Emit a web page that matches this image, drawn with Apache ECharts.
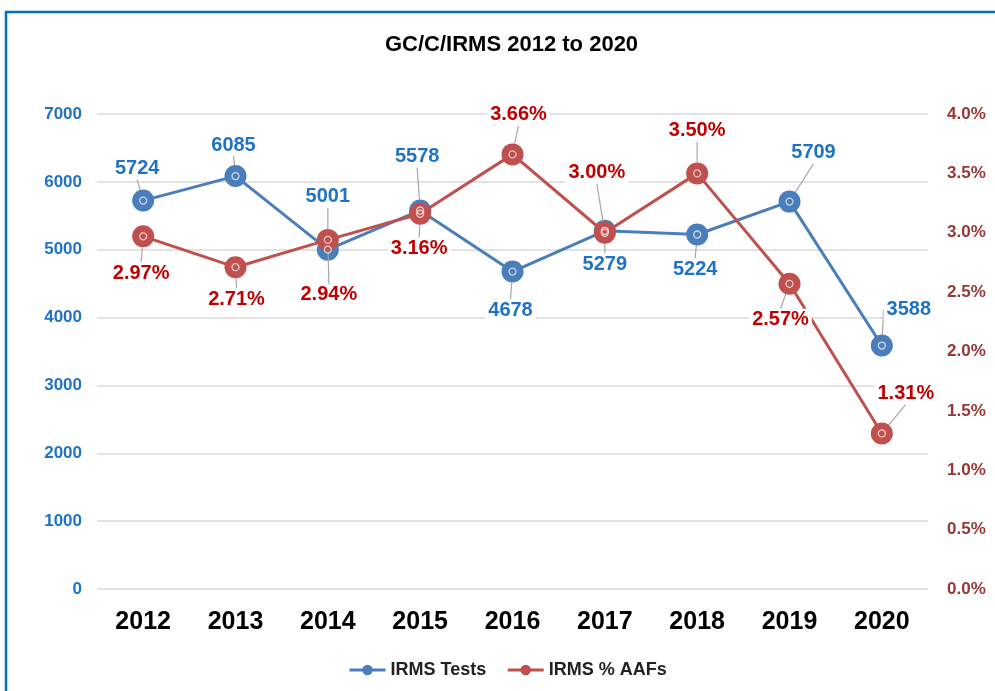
<!DOCTYPE html>
<html>
<head>
<meta charset="utf-8">
<script src="https://cdn.jsdelivr.net/npm/echarts@6/dist/echarts.min.js"></script>
<style>
  html, body { margin: 0; padding: 0; background: #fff; }
  #chart { width: 995px; height: 691px; }
</style>
</head>
<body>
<div id="chart"></div>
<script>
const years = ['2012', '2013', '2014', '2015', '2016', '2017', '2018', '2019', '2020'];
const irmsTests = [5724, 6085, 5001, 5578, 4678, 5279, 5224, 5709, 3588];
const irmsAAF = [2.97, 2.71, 2.94, 3.16, 3.66, 3.00, 3.50, 2.57, 1.31];

// label offsets (px) from each point, like the callouts in the picture
const testsOffsets = [[-6, -32], [-2, -31], [0, -53], [-3, -54], [-2, 39], [0, 34], [-2, 35], [24, -49], [27, -36]];
const aafOffsets = [[-2, 37], [1, 32], [1, 55], [-1, 35], [6, -40], [-8, -60], [0, -43], [-9, 36], [24, -40]];

const font = 'Arial, "Liberation Sans", sans-serif';
const blue = '#4A7EBB';
const red = '#C0504D';

const chart = echarts.init(document.getElementById('chart'));

// small white ring drawn on top of each marker (as in the picture)
const ring = (data, axis) => ({
  type: 'scatter',
  yAxisIndex: axis,
  data: data,
  symbol: 'circle',
  symbolSize: 7,
  silent: true,
  itemStyle: { color: 'transparent', borderColor: 'rgba(255,255,255,0.85)', borderWidth: 1.3 },
  z: 6
});

const option = {
  animation: false,
  backgroundColor: '#fff',
  graphic: [{
    type: 'rect',
    shape: { x: 6, y: 12, width: 1010, height: 700 },
    style: { fill: 'none', stroke: '#0070C0', lineWidth: 2.5 },
    z: 100
  }],
  title: {
    text: 'GC/C/IRMS 2012 to 2020',
    left: 380,
    top: 29,
    textStyle: { fontFamily: font, fontSize: 22, fontWeight: 'bold', color: '#000' }
  },
  legend: {
    top: 656,
    left: 343,
    itemWidth: 36,
    itemHeight: 13,
    itemGap: 20,
    itemStyle: { borderWidth: 0 },
    lineStyle: { width: 3 },
    textStyle: { fontFamily: font, fontSize: 18, fontWeight: 'bold', color: '#222' },
    data: ['IRMS Tests', 'IRMS % AAFs']
  },
  grid: { left: 97, right: 67, top: 114, bottom: 102 },
  xAxis: {
    type: 'category',
    data: years,
    axisLine: { show: false },
    axisTick: { show: false },
    axisLabel: { fontFamily: font, fontSize: 25, fontWeight: 'bold', color: '#000', margin: 21 }
  },
  yAxis: [{
    type: 'value',
    min: 0, max: 7000, interval: 1000,
    axisLine: { show: false },
    axisTick: { show: false },
    splitLine: { lineStyle: { color: '#D9D9D9', width: 1.5 } },
    axisLabel: {
      fontFamily: font, fontSize: 17, fontWeight: 'bold', color: '#1F72C4', margin: 15,
      formatter: v => String(v)
    }
  }, {
    type: 'value',
    min: 0, max: 4, interval: 0.5,
    axisLine: { show: false },
    axisTick: { show: false },
    splitLine: { show: false },
    axisLabel: {
      fontFamily: font, fontSize: 17, fontWeight: 'bold', color: '#953735', margin: 19,
      formatter: v => v.toFixed(1) + '%'
    }
  }],
  series: [{
    name: 'IRMS Tests',
    type: 'line',
    data: irmsTests,
    color: blue,
    symbol: 'circle',
    symbolSize: 22,
    lineStyle: { width: 3 },
    z: 3,
    label: {
      show: true,
      position: 'inside',
      fontFamily: font, fontSize: 20, fontWeight: 'bold', color: '#1F72C4',
      backgroundColor: '#fff', padding: [1, 3]
    },
    labelLine: { show: true, lineStyle: { color: '#A6A6A6', width: 1.2 } },
    labelLayout: p => ({ dx: testsOffsets[p.dataIndex][0], dy: testsOffsets[p.dataIndex][1] })
  }, {
    name: 'IRMS % AAFs',
    type: 'line',
    yAxisIndex: 1,
    data: irmsAAF,
    color: red,
    symbol: 'circle',
    symbolSize: 22,
    lineStyle: { width: 3 },
    z: 4,
    label: {
      show: true,
      position: 'inside',
      fontFamily: font, fontSize: 20, fontWeight: 'bold', color: '#C00000',
      backgroundColor: '#fff', padding: [1, 3],
      formatter: p => p.value.toFixed(2) + '%'
    },
    labelLine: { show: true, lineStyle: { color: '#A6A6A6', width: 1.2 } },
    labelLayout: p => ({ dx: aafOffsets[p.dataIndex][0], dy: aafOffsets[p.dataIndex][1] })
  },
  ring(irmsTests, 0),
  ring(irmsAAF, 1)]
};

chart.setOption(option);
</script>
</body>
</html>
